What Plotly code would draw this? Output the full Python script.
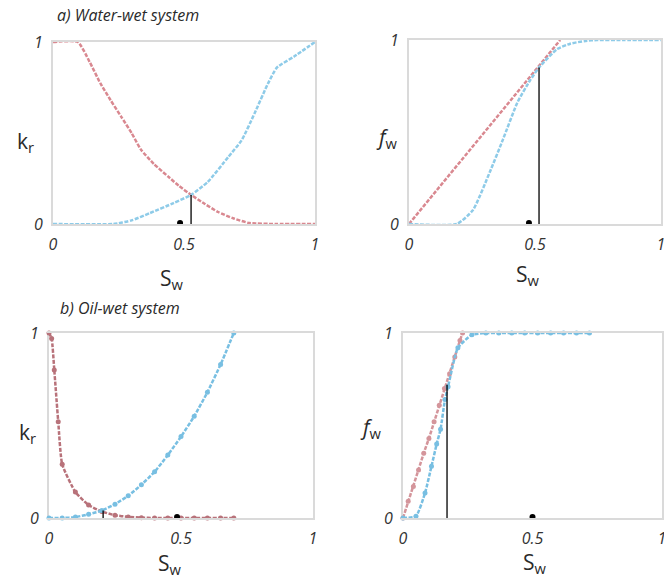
import plotly.graph_objects as go

# ---------------- data ----------------
# a) water-wet: relative permeability
ww_kro_sw = [0, 0.095, 0.14, 0.18, 0.22, 0.26, 0.30, 0.335, 0.385, 0.44, 0.48, 0.527, 0.58, 0.63, 0.69, 0.75, 0.85, 1.0]
ww_kro = [1.0, 1.0, 0.89, 0.775, 0.68, 0.59, 0.50, 0.41, 0.33, 0.26, 0.21, 0.16, 0.11, 0.066, 0.03, 0.005, 0.0, 0.0]
ww_krw_sw = [0, 0.23, 0.30, 0.37, 0.46, 0.527, 0.59, 0.67, 0.72, 0.77, 0.82, 0.855, 0.92, 1.0]
ww_krw = [0.0, 0.0, 0.02, 0.06, 0.115, 0.16, 0.23, 0.37, 0.46, 0.61, 0.77, 0.86, 0.92, 1.0]
ww_cross_sw = 0.527
ww_cross_kr = 0.16

# a) water-wet: fractional flow
ww_fw_sw = [0, 0.19, 0.254, 0.32, 0.373, 0.43, 0.48, 0.516, 0.587, 0.64, 0.70, 0.746, 0.85, 1.0]
ww_fw = [0.0, 0.0, 0.076, 0.28, 0.46, 0.66, 0.78, 0.85, 0.95, 0.98, 0.995, 1.0, 1.0, 1.0]
ww_tan_sw = [0, 0.60]
ww_tan_fw = [0, 1.0]
ww_front_sw = 0.516
ww_front_fw = 0.85

# b) oil-wet: relative permeability
ow_sw = [0, 0.05, 0.10, 0.15, 0.20, 0.25, 0.30, 0.35, 0.40, 0.45, 0.50, 0.55, 0.60, 0.65, 0.70]
ow_kro_sw = [0, 0.01, 0.02, 0.035, 0.05, 0.10, 0.15, 0.20, 0.25, 0.30, 0.35, 0.40, 0.45, 0.50, 0.55, 0.60, 0.65, 0.70]
ow_kro = [1.0, 0.97, 0.80, 0.52, 0.29, 0.14, 0.07, 0.035, 0.015, 0.006, 0.002, 0, 0, 0, 0, 0, 0, 0]
ow_krw = [0.0, 0.0, 0.005, 0.02, 0.04, 0.075, 0.12, 0.18, 0.25, 0.34, 0.44, 0.55, 0.68, 0.83, 1.0]
ow_cross_sw = 0.205
ow_cross_kr = 0.04

# b) oil-wet: fractional flow
ow_fw_sw = [0, 0.05, 0.085, 0.11, 0.13, 0.145, 0.162, 0.174, 0.212, 0.266, 0.32, 0.37, 0.42, 0.47, 0.52, 0.57, 0.62, 0.67, 0.72]
ow_fw = [0.0, 0.01, 0.135, 0.28, 0.40, 0.48, 0.64, 0.71, 0.92, 0.99, 1.0, 1.0, 1.0, 1.0, 1.0, 1.0, 1.0, 1.0, 1.0]
ow_tan_sw = [0, 0.02, 0.04, 0.06, 0.08, 0.10, 0.12, 0.14, 0.16, 0.18, 0.20, 0.22, 0.23]
ow_tan_fw = [0, 0.09, 0.17, 0.26, 0.35, 0.43, 0.52, 0.61, 0.70, 0.78, 0.87, 0.96, 1.0]
ow_front_sw = 0.17
ow_front_fw = 0.72

dots_sw = [0.485, 0.476, 0.485, 0.50]

# ---------------- styling ----------------
RED = "#d98890"
BLUE = "#8ecbe8"
RED2 = "#b8727a"
RED3 = "#d4959b"
BLUE2 = "#78bfe2"
W, H = 664, 578
FONT = "Open Sans"

def px_x(a, b):
    return [a / W, b / W]

def px_y(top, bottom):
    return [1 - bottom / H, 1 - top / H]

fig = go.Figure()

def line(sw, v, color, ax, markers=False, smooth=False, dash="4px,1.5px", width=2.5):
    ln = dict(color=color, width=width, dash=dash)
    if smooth:
        ln.update(shape="spline", smoothing=0.5)
    fig.add_trace(go.Scatter(
        x=sw, y=v, mode="lines+markers" if markers else "lines",
        line=ln, marker=dict(size=5, color=color),
        xaxis="x" + ax, yaxis="y" + ax, cliponaxis=False, showlegend=False,
        hoverinfo="skip"))

def vline(sw, top, ax):
    fig.add_trace(go.Scatter(
        x=[sw, sw], y=[-0.015, top], mode="lines",
        line=dict(color="black", width=1.3),
        xaxis="x" + ax, yaxis="y" + ax, cliponaxis=False, showlegend=False,
        hoverinfo="skip"))

def dot(sw, ax):
    fig.add_trace(go.Scatter(
        x=[sw], y=[0.005], mode="markers",
        marker=dict(color="black", size=6),
        xaxis="x" + ax, yaxis="y" + ax, cliponaxis=False, showlegend=False,
        hoverinfo="skip"))

# panel 1 (a, kr)
line(ww_kro_sw, ww_kro, RED, "", smooth=True)
line(ww_krw_sw, ww_krw, BLUE, "", smooth=True)
vline(ww_cross_sw, ww_cross_kr, "")
dot(dots_sw[0], "")
# panel 2 (a, fw)
line(ww_tan_sw, ww_tan_fw, RED, "2")
line(ww_fw_sw, ww_fw, BLUE, "2", smooth=True)
vline(ww_front_sw, ww_front_fw, "2")
dot(dots_sw[1], "2")
# panel 3 (b, kr)
line(ow_kro_sw, ow_kro, RED2, "3", markers=True, smooth=True)
line(ow_sw, ow_krw, BLUE2, "3", markers=True, smooth=True)
vline(ow_cross_sw, ow_cross_kr, "3")
dot(dots_sw[2], "3")
# panel 4 (b, fw)
line(ow_tan_sw, ow_tan_fw, RED3, "4", markers=True)
line(ow_fw_sw, ow_fw, BLUE2, "4", markers=True, smooth=True)
vline(ow_front_sw, ow_front_fw, "4")
dot(dots_sw[3], "4")

tickfont = dict(family=FONT, size=16, color="#333333", style="italic")

def xax(dom, anchor):
    return dict(domain=dom, range=[0, 1], anchor=anchor, tickmode="linear",
                tick0=0, dtick=0.5, tickformat="~g", tickfont=tickfont,
                showgrid=False, zeroline=False, showline=True, mirror=True,
                linecolor="#dadada", linewidth=2, ticks="outside", ticklen=5,
                tickcolor="rgba(0,0,0,0)", tickangle=0,
                ticklabeloverflow="allow", automargin=False, fixedrange=True)

def yax(dom, anchor):
    return dict(domain=dom, range=[0, 1], anchor=anchor, tickmode="linear",
                tick0=0, dtick=1, tickformat="~g", tickfont=tickfont, showgrid=False,
                zeroline=False, showline=True, mirror=True, linecolor="#dadada",
                linewidth=2, ticks="outside", ticklen=5, tickcolor="rgba(0,0,0,0)",
                layer="below traces",
                ticklabeloverflow="allow", automargin=False, fixedrange=True)

lab = dict(family=FONT, size=21, color="#2a2a2a")
ttl = dict(family=FONT, size=16, color="#2a2a2a", style="italic")

annotations = [
    dict(text="a) Water-wet system", x=55 / W, y=1 - 15 / H, xanchor="left", yanchor="middle", font=ttl),
    dict(text="b) Oil-wet system", x=58 / W, y=1 - 308 / H, xanchor="left", yanchor="middle", font=ttl),
    dict(text="k<sub>r</sub>", x=25 / W, y=1 - 142 / H, font=lab),
    dict(text="<i>f</i><sub>w</sub>", x=387 / W, y=1 - 138 / H, font=lab),
    dict(text="S<sub>w</sub>", x=172 / W, y=1 - 279 / H, font=lab),
    dict(text="S<sub>w</sub>", x=528 / W, y=1 - 275 / H, font=lab),
    dict(text="k<sub>r</sub>", x=28 / W, y=1 - 433 / H, font=lab),
    dict(text="<i>f</i><sub>w</sub>", x=371 / W, y=1 - 428 / H, font=lab),
    dict(text="S<sub>w</sub>", x=170 / W, y=1 - 564 / H, font=lab),
    dict(text="S<sub>w</sub>", x=535 / W, y=1 - 563 / H, font=lab),
]
for a in annotations:
    a.update(xref="paper", yref="paper", showarrow=False)
    a.setdefault("xanchor", "center")
    a.setdefault("yanchor", "middle")

fig.update_layout(
    width=W, height=H, margin=dict(l=0, r=0, t=0, b=0),
    paper_bgcolor="white", plot_bgcolor="white",
    xaxis=xax(px_x(53, 315), "y"), yaxis=yax(px_y(42, 224), "x"),
    xaxis2=xax(px_x(409, 661), "y2"), yaxis2=yax(px_y(40, 224), "x2"),
    xaxis3=xax(px_x(49, 313), "y3"), yaxis3=yax(px_y(333, 518), "x3"),
    xaxis4=xax(px_x(403, 662), "y4"), yaxis4=yax(px_y(333, 518), "x4"),
    annotations=annotations,
)

fig.write_html("out.html")
